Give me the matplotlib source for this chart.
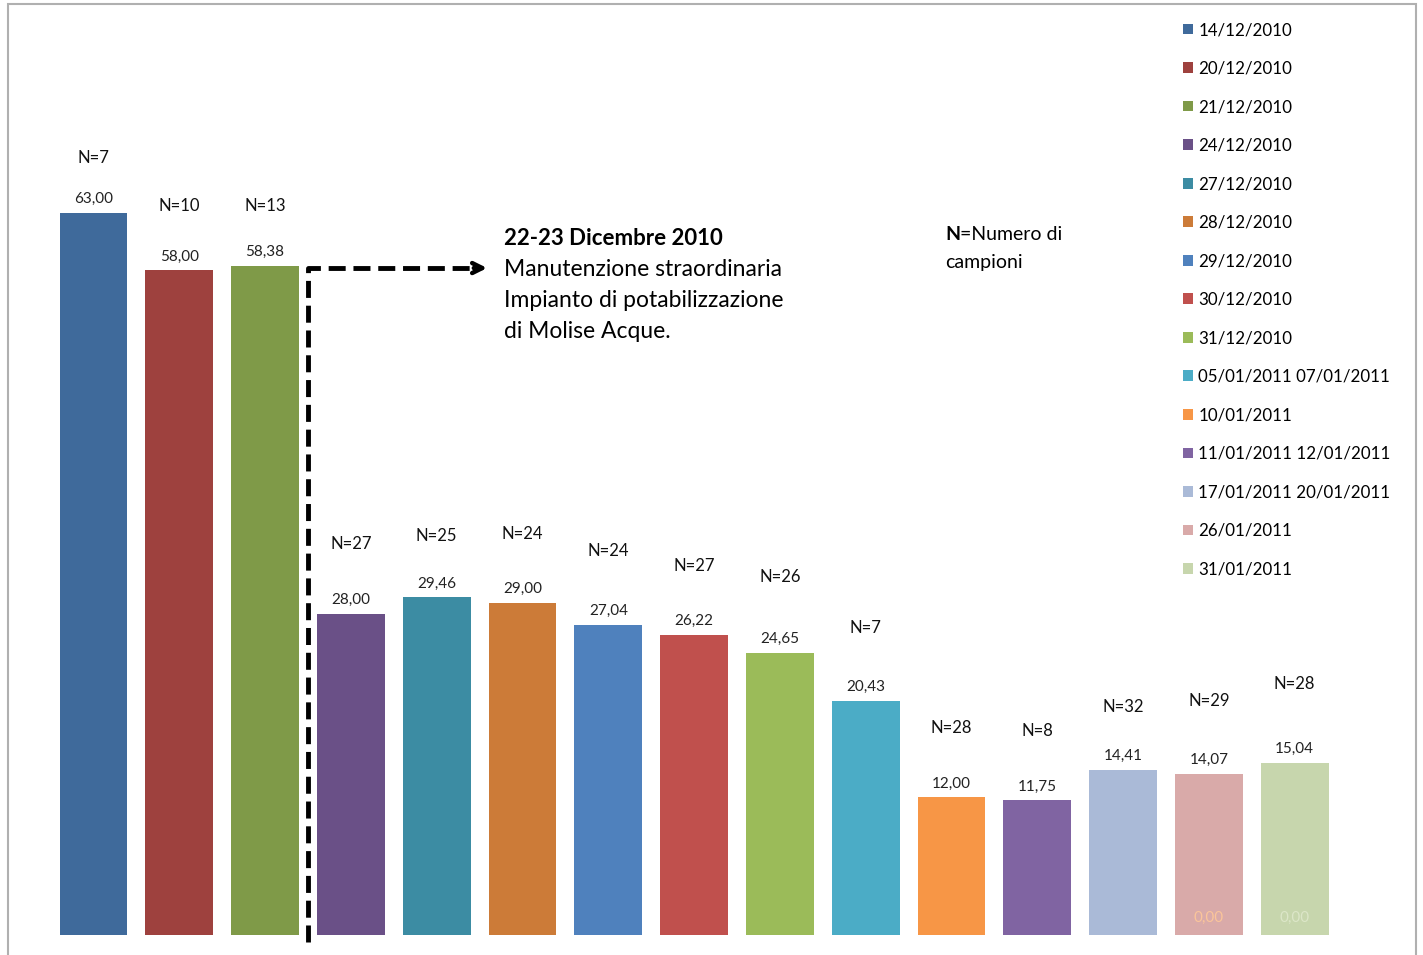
import numpy as np
import matplotlib.pyplot as plt
from matplotlib.patches import Rectangle

plt.rcParams['font.family'] = ['Lato', 'DejaVu Sans']

dates = ["14/12/2010", "20/12/2010", "21/12/2010", "24/12/2010", "27/12/2010",
         "28/12/2010", "29/12/2010", "30/12/2010", "31/12/2010",
         "05/01/2011 07/01/2011", "10/01/2011", "11/01/2011 12/01/2011",
         "17/01/2011 20/01/2011", "26/01/2011", "31/01/2011"]
values = [63.00, 58.00, 58.38, 28.00, 29.46, 29.00, 27.04, 26.22, 24.65,
          20.43, 12.00, 11.75, 14.41, 14.07, 15.04]
n_samples = [7, 10, 13, 27, 25, 24, 24, 27, 26, 7, 28, 8, 32, 29, 28]
colors = ["#3F6A9B", "#9E413E", "#7F9A48", "#6A5087", "#3C8CA3", "#CC7B38",
          "#4F81BD", "#C0504D", "#9BBB59", "#4BACC6", "#F79646", "#8064A2",
          "#AABAD7", "#D9AAA9", "#C7D6AD"]
# heights of the N= labels (free floating text in the original)
n_label_y = [67.8, 63.6, 63.6, 34.1, 34.8, 35.0, 33.5, 32.2, 31.2, 26.8,
             18.1, 17.8, 19.9, 20.4, 21.9]

fig = plt.figure(figsize=(14.23, 9.55), dpi=100)
ax = fig.add_axes([0, 0, 1, 1])
ax.set_xlim(-1.0897, 15.495)
ax.set_ylim(-1.745, 81.59)
ax.axis('off')

# outer frame of the plot area
fig.patches.append(Rectangle((8 / 1423, -0.01), 1408 / 1423, 1 - 4 / 955 + 0.01,
                             transform=fig.transFigure, fill=False,
                             edgecolor="#B0B0B0", linewidth=1.5))

x = np.arange(len(values))
bars = ax.bar(x, values, width=0.79, color=colors, label=dates)

for i, v in enumerate(values):
    ax.text(i, v + 0.6, f"{v:.2f}".replace(".", ","), ha='center', va='bottom',
            fontsize=11, color="#222222")
    ax.text(i, n_label_y[i], f"N={n_samples[i]}", ha='center', va='center',
            fontsize=12, color="#111111")

# "0,00" labels visible inside the last two bars
ax.text(13, 1.5, "0,00", ha='center', va='center', fontsize=11, color="#FBC59A")
ax.text(14, 1.5, "0,00", ha='center', va='center', fontsize=11, color="#DCE6C8")

# dashed arrow marking the maintenance
ax.plot([2.5, 2.5, 4.45], [-0.6, 58.2, 58.2], color='black', linewidth=3.5,
        linestyle=(0, (3.5, 1.6)))
ax.annotate("", xy=(4.62, 58.2), xytext=(4.4, 58.2),
            arrowprops=dict(arrowstyle='->', color='black', lw=3.2,
                            mutation_scale=18))

ax.text(4.79, 60.8, "22-23 Dicembre 2010", fontsize=16, fontweight='bold',
        va='center', ha='left')
ax.text(4.79, 58.1, "Manutenzione straordinaria", fontsize=16.5, va='center', ha='left')
ax.text(4.79, 55.4, "Impianto di potabilizzazione", fontsize=16.5, va='center', ha='left')
ax.text(4.79, 52.7, "di Molise Acque.", fontsize=16.5, va='center', ha='left')

tn = ax.text(9.925, 61.1, "N", fontsize=14, fontweight='bold', va='center', ha='left')
ax.annotate("=Numero di", xy=(1, 0.5), xycoords=tn, va='center', ha='left',
            fontsize=14)
ax.text(9.925, 58.7, "campioni", fontsize=14, va='center', ha='left')

ax.legend(handles=list(bars), labels=dates, loc='upper left',
          bbox_to_anchor=(1183 / 1423, 1 - 22 / 955), frameon=False,
          fontsize=12.2, handlelength=0.6, handleheight=0.6, handletextpad=0.3,
          labelspacing=1.33, borderaxespad=0, borderpad=0)

fig.savefig("out.png", dpi=100)
